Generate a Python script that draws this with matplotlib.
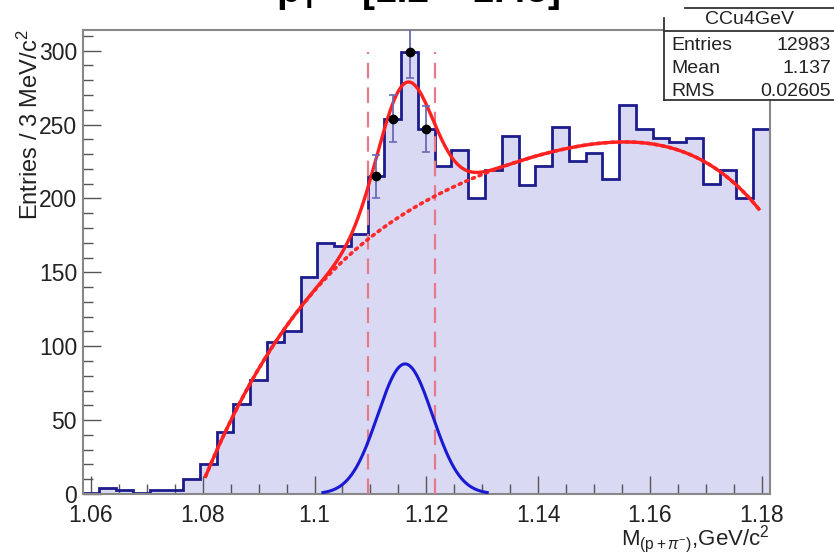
import numpy as np
import matplotlib
matplotlib.use("Agg")
import matplotlib.pyplot as plt
from matplotlib.patches import Rectangle
from matplotlib.lines import Line2D
from matplotlib.ticker import MultipleLocator

plt.rcParams['font.family'] = ['Liberation Sans', 'DejaVu Sans']
plt.rcParams['mathtext.fontset'] = 'custom'
plt.rcParams['mathtext.rm'] = 'Liberation Sans'
plt.rcParams['mathtext.it'] = 'Liberation Sans:italic'
plt.rcParams['mathtext.bf'] = 'Liberation Sans:bold'

# --- histogram: 3 MeV bins centred on 1.060 ... 1.180 GeV/c^2
bin_centers = np.round(np.arange(41) * 0.003 + 1.060, 4)
counts = [1, 4, 3, 1, 3, 3, 10, 20, 42, 61,
          77, 103, 110, 147, 170, 168, 176, 215, 254, 299,
          247, 222, 233, 200, 219, 242, 209, 222, 248, 225,
          231, 213, 263, 247, 241, 238, 241, 210, 219, 200,
          247]

# bins shown with markers and error bars (signal window)
sig_bins = [17, 18, 19, 20]
window = [1.1095, 1.1215]

# gaussian signal component of the fit
sig_mean = 1.1162
sig_sigma = 0.0049
sig_amp = 88.0

# points along the background component of the fit
bkg_x = [1.0805, 1.0843, 1.0884, 1.0915, 1.0974, 1.1004, 1.1035, 1.1096,
         1.1162, 1.1215, 1.1272, 1.1344, 1.1427, 1.1493, 1.1558, 1.1630,
         1.1695, 1.1743, 1.1794]
bkg_y = [13, 43, 72, 97, 124.5, 139, 151, 176,
         190, 200, 211, 222, 232, 237, 239, 235,
         225, 212, 194]
fit_range = [1.0805, 1.1795]

title_left = r"p$_{\mathbf{T}}$ ="
title_right = "[1.2 \u2013 1.45]"
stats_title = "CCu4GeV"
stats_rows = [("Entries", "12983"), ("Mean", "1.137"), ("RMS", "0.02605")]

W, H = 834, 553
fig = plt.figure(figsize=(W / 100, H / 100), dpi=100)
ax = fig.add_axes([82.6 / W, 1 - 494 / H, (770 - 82.6) / W, (494 - 30) / H])

bw = 0.003
edges = np.append(bin_centers - bw / 2, bin_centers[-1] + bw / 2)
counts = np.asarray(counts, dtype=float)

ax.stairs(counts, edges, fill=True, color='#d9d9f4', zorder=1)
ax.stairs(counts, edges, baseline=None, color='#1c1c8c', lw=2.0, zorder=2)

# fit curves
coef = np.polyfit(np.array(bkg_x) - 1.12, bkg_y, 5)
xf = np.linspace(fit_range[0], fit_range[1], 600)
bkg = np.polyval(coef, xf - 1.12)
sig = sig_amp * np.exp(-0.5 * ((xf - sig_mean) / sig_sigma) ** 2)
ax.plot(xf, bkg, color='#ff2a2a', lw=2.6, ls=(0, (0.6, 1.4)),
        dash_capstyle='round', zorder=4)
ax.plot(xf, bkg + sig, color='#ff2020', lw=2.4, zorder=5)

xs = np.linspace(sig_mean - 3 * sig_sigma, sig_mean + 3 * sig_sigma, 300)
ax.plot(xs, sig_amp * np.exp(-0.5 * ((xs - sig_mean) / sig_sigma) ** 2),
        color='#1a1ad2', lw=2.2, zorder=4)

# signal window
peak = counts.max()
for xw in window:
    ax.plot([xw, xw], [0, peak], color='#e8788a', lw=1.6,
            ls=(0, (7, 4)), zorder=3)

sx = bin_centers[sig_bins]
sy = counts[sig_bins]
ax.errorbar(sx, sy, yerr=np.sqrt(sy), fmt='o', color='black', ms=6,
            ecolor='#6a6ab8', elinewidth=1.3, capsize=3, capthick=1.2,
            zorder=6, clip_on=True)

ax.set_xlim(edges[0], edges[-1])
ax.set_ylim(0, peak * 1.05)

ax.xaxis.set_major_locator(MultipleLocator(0.02))
ax.xaxis.set_minor_locator(MultipleLocator(0.005))
ax.yaxis.set_major_locator(MultipleLocator(50))
ax.yaxis.set_minor_locator(MultipleLocator(10))
ax.xaxis.set_major_formatter(plt.FuncFormatter(
    lambda v, p: f"{v:.2f}".rstrip('0').rstrip('.')))
ax.tick_params(which='both', direction='in', top=False, right=False,
               color='#555555', labelsize=16.5, labelcolor='#222222')
ax.tick_params(which='major', length=13, width=1.0)
ax.tick_params(which='minor', length=7, width=1.0)
ax.tick_params(axis='x', pad=7)
ax.tick_params(axis='y', pad=4)
for s in ax.spines.values():
    s.set_color('#888888')
    s.set_linewidth(1.5)

fig.text(30 / W, 1 - 30 / H, "Entries / 3 MeV/c$^{2}$", rotation=90,
         ha='center', va='top', fontsize=17, color='#222222')
fig.text(770 / W, 1 - 545 / H, r"M$_{(\mathrm{p}+\pi^{-})}$,GeV/c$^{2}$",
         ha='right', va='baseline', fontsize=16, color='#222222')

# title (runs off the top edge)
fig.text(352 / W, 1 - 1.5 / H, title_left, ha='right', va='baseline',
         fontsize=28, fontweight='bold', color='black')
fig.text(362 / W, 1 - 1.5 / H, title_right, ha='left', va='baseline',
         fontsize=28, fontweight='bold', color='black')

# statistics box
ec = '#333333'
bx0, bx1, bxt = 664, 836, 685
for xs_, ys_ in [([bxt, bx1], [7.5, 7.5]),
                 ([bx0, bx0], [18, 100]),
                 ([bx0, bx1], [100, 100]),
                 ([bx0, bx1], [31, 31])]:
    fig.lines.append(Line2D(np.array(xs_) / W, 1 - np.array(ys_) / H,
                            transform=fig.transFigure, color=ec, lw=1.3,
                            zorder=11))
fig.patches.append(Rectangle((bx0 / W, 1 - 100 / H), (bx1 - bx0) / W,
                             82 / H, transform=fig.transFigure,
                             facecolor='white', edgecolor='none', zorder=10))
fig.patches.append(Rectangle((bxt / W, 1 - 31 / H), (bx1 - bxt) / W,
                             23.5 / H, transform=fig.transFigure,
                             facecolor='white', edgecolor='none', zorder=10))
fig.text(749 / W, 1 - 19.5 / H, stats_title, ha='center',
         va='center', fontsize=14, color='#222222', zorder=12)
for i, (k, v) in enumerate(stats_rows):
    yy = 1 - (45 + i * 23.5) / H
    fig.text(671 / W, yy, k, ha='left', va='center', fontsize=14,
             color='#222222', zorder=12)
    fig.text(831 / W, yy, v, ha='right', va='center', fontsize=14,
             color='#222222', zorder=12)

fig.savefig("out.png", dpi=100)
